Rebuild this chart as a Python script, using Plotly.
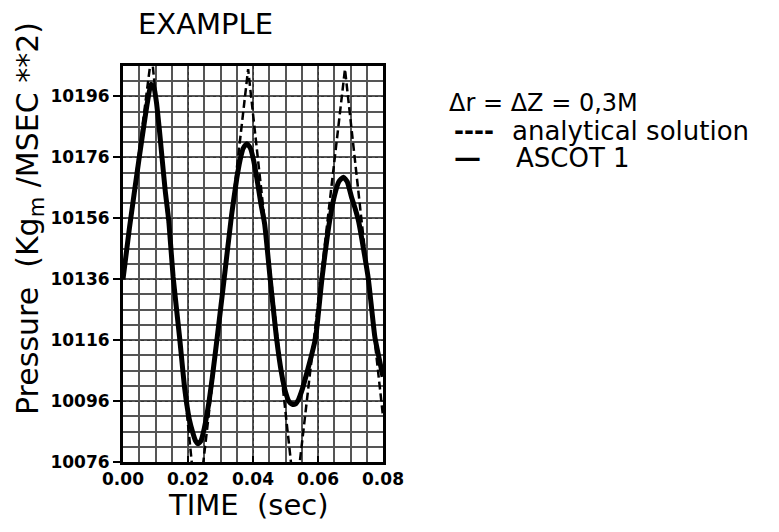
import plotly.graph_objects as go

# ---- data ----
t_ascot = [0.0000, 0.0020, 0.0050, 0.0065, 0.0075, 0.0086, 0.0095, 0.0103, 0.0112, 0.0120,
           0.0130, 0.0141, 0.0154, 0.0174, 0.0190, 0.0204, 0.0215, 0.0223, 0.0231, 0.0240,
           0.0250, 0.0262, 0.0275, 0.0290, 0.0310, 0.0334, 0.0350, 0.0360, 0.0370, 0.0381,
           0.0392, 0.0402, 0.0412, 0.0424, 0.0436, 0.0452, 0.0472, 0.0488, 0.0500, 0.0510,
           0.0520, 0.0530, 0.0540, 0.0552, 0.0565, 0.0580, 0.0593, 0.0612, 0.0637, 0.0652,
           0.0664, 0.0678, 0.0690, 0.0703, 0.0715, 0.0725, 0.0740, 0.0755, 0.0775, 0.0790,
           0.0800]
p_ascot = [10136, 10153, 10176, 10187, 10194, 10200, 10199, 10194, 10185, 10176,
           10165, 10155, 10137, 10117, 10100, 10090, 10085.5, 10083, 10082, 10083,
           10087, 10094, 10104, 10117, 10135, 10157, 10169, 10175, 10179, 10180.5,
           10179, 10175, 10169, 10161, 10154, 10137, 10117, 10105, 10099, 10096,
           10095, 10095, 10096.5, 10100, 10105, 10111, 10117, 10136, 10156, 10164,
           10168, 10169.5, 10168, 10163, 10159, 10155, 10146, 10136, 10117, 10109,
           10104]

t_analytical = [0.0000, 0.0088, 0.0228, 0.0385, 0.0530, 0.0683, 0.0800]
p_analytical = [10136, 10210, 10058, 10205, 10063, 10205, 10091]

x_tick_vals = [0.00, 0.02, 0.04, 0.06, 0.08]
x_tick_text = ["0.00", "0.02", "0.04", "0.06", "0.08"]
x_half_ticks = [0.01, 0.03, 0.05, 0.07]
y_tick_vals = [10076, 10096, 10116, 10136, 10156, 10176, 10196]
y_tick_text = ["10076", "10096", "10116", "10136", "10156", "10176", "10196"]
y_half_ticks = [10086, 10106, 10126, 10146, 10166, 10186, 10206]

legend_header = "Δr = ΔZ = 0,3M"
series_names = ["analytical solution", "ASCOT 1"]

FONT = "DejaVu Sans"

fig = go.Figure()
fig.add_trace(go.Scatter(
    x=t_analytical, y=p_analytical, mode="lines", name=series_names[0],
    line=dict(color="black", width=2.5, dash="8px,4px")))
fig.add_trace(go.Scatter(
    x=t_ascot, y=p_ascot, mode="lines", name=series_names[1],
    line=dict(color="black", width=5, shape="spline", smoothing=0.5)))

tickfont = dict(family=FONT, size=17, color="black", weight="bold")
item_font = dict(family=FONT, size=26, color="black")
header_font = dict(family=FONT, size=24, color="black")


def note(text, x, y, xanchor="left", font=item_font, **kw):
    return dict(text=text, xref="paper", yref="paper", x=x, y=y, xanchor=xanchor,
                yanchor="middle", showarrow=False, font=font, **kw)


fig.update_layout(
    template="none",
    width=771, height=524, autosize=False,
    margin=dict(l=115, r=396, t=58, b=70, autoexpand=False),
    paper_bgcolor="white", plot_bgcolor="white",
    font=dict(family=FONT, color="black"),
    showlegend=False,
    xaxis=dict(
        range=[0, 0.08], tickmode="array", tickvals=x_tick_vals, ticktext=x_tick_text,
        ticks="inside", ticklen=6, tickwidth=2, tickcolor="black",
        showline=True, linewidth=3, linecolor="black", mirror=True,
        showgrid=True, gridcolor="#333", gridwidth=1.3, griddash="dot",
        minor=dict(tick0=0, dtick=0.005, showgrid=True, gridcolor="#555", gridwidth=1.6,
                   griddash="solid", ticks=""),
        zeroline=False, automargin=False, tickfont=tickfont),
    yaxis=dict(
        range=[10076, 10206], tickmode="array", tickvals=y_tick_vals, ticktext=y_tick_text,
        ticks="outside", ticklen=7, tickwidth=2, tickcolor="black",
        showline=True, linewidth=3, linecolor="black", mirror=True,
        showgrid=True, gridcolor="#333", gridwidth=1.3, griddash="dot",
        minor=dict(tick0=10076, dtick=5, showgrid=True, gridcolor="#555", gridwidth=1.6,
                   griddash="solid", ticks=""),
        zeroline=False, automargin=False, tickfont=tickfont),
    xaxis2=dict(
        overlaying="x", anchor="y", side="bottom", range=[0, 0.08],
        tickmode="array", tickvals=x_half_ticks, ticks="inside", ticklen=5,
        tickwidth=2, tickcolor="black", showticklabels=False, automargin=False,
        showgrid=False, showline=False, zeroline=False),
    yaxis2=dict(
        overlaying="y", anchor="x", side="left", range=[10076, 10206],
        tickmode="array", tickvals=y_half_ticks, ticks="outside", ticklen=6,
        tickwidth=2, tickcolor="black", showticklabels=False, automargin=False,
        showgrid=False, showline=False, zeroline=False),
    annotations=[
        note("EXAMPLE", 0.319, 1.105, xanchor="center",
             font=dict(family=FONT, size=29, color="black")),
        note("Pressure  (Kg<sub>m</sub> /MSEC **2)", -0.362, 0.616, xanchor="center",
             textangle=-90, font=dict(family=FONT, size=30, color="black")),
        note("TIME  (sec)", 0.481, -0.109, xanchor="center",
             font=dict(family=FONT, size=29, color="black")),
        # legend block, lettered as in the reference
        note(legend_header, 1.246, 0.9066, font=header_font),
        note("----", 1.265, 0.8359,
             font=dict(family=FONT, size=24, color="black", weight="bold")),
        note(series_names[0], 1.488, 0.8359),
        note("—", 1.265, 0.7677, font=dict(family=FONT, size=27, color="black", weight="bold")),
        note(series_names[1], 1.504, 0.7677),
    ],
)

fig.write_html("out.html")
